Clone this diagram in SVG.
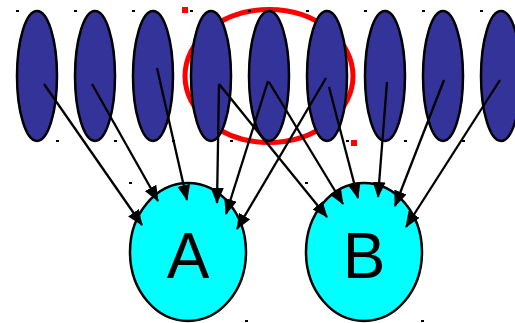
<svg xmlns="http://www.w3.org/2000/svg" width="515" height="323" viewBox="0 0 515 323">
  <style>
    .src { fill: #333399; stroke: #000; stroke-width: 2.5; }
    .dst { fill: #00ffff; stroke: #000; stroke-width: 2.5; }
    .lbl { font-family: "Liberation Sans", Arial, sans-serif; font-size: 64px; fill: #000; text-anchor: middle; }
    .edge { stroke: #000; stroke-width: 2.3; fill: none; marker-end: url(#arrow); }
    .handle { fill: #000; }
    .sel { fill: none; stroke: #ff0000; stroke-width: 5; }
    .selh { fill: #ff0000; }
  </style>
  <defs>
    <marker id="arrow" viewBox="0 0 16 13" refX="15" refY="6.5" markerWidth="16" markerHeight="13" markerUnits="userSpaceOnUse" orient="auto">
      <path d="M0,0 L16,6.5 L0,13 z" fill="#000"/>
    </marker>
  </defs>

  <!-- selection ring, drawn beneath the nodes -->
  <g id="selection">
    <ellipse class="sel" cx="269" cy="76" rx="84" ry="66.5"/>
    <rect class="selh" x="182" y="7" width="6" height="6"/>
    <rect class="selh" x="351" y="140" width="6" height="6"/>
  </g>

  <!-- source nodes -->
  <g id="s1"><ellipse class="src" cx="37" cy="76" rx="20" ry="65"/></g>
  <g id="s2"><ellipse class="src" cx="95" cy="76" rx="20" ry="65"/></g>
  <g id="s3"><ellipse class="src" cx="153" cy="76" rx="20" ry="65"/></g>
  <g id="s4"><ellipse class="src" cx="211" cy="76" rx="20" ry="65"/></g>
  <g id="s5"><ellipse class="src" cx="269" cy="76" rx="20" ry="65"/></g>
  <g id="s6"><ellipse class="src" cx="327" cy="76" rx="20" ry="65"/></g>
  <g id="s7"><ellipse class="src" cx="385" cy="76" rx="20" ry="65"/></g>
  <g id="s8"><ellipse class="src" cx="443" cy="76" rx="20" ry="65"/></g>
  <g id="s9"><ellipse class="src" cx="501" cy="76" rx="20" ry="65"/></g>

  <!-- corner handles -->
  <g id="handles">
    <rect class="handle" x="16" y="10" width="3" height="2"/>
    <rect class="handle" x="74" y="10" width="3" height="2"/>
    <rect class="handle" x="132" y="10" width="3" height="2"/>
    <rect class="handle" x="190" y="10" width="3" height="2"/>
    <rect class="handle" x="248" y="10" width="3" height="2"/>
    <rect class="handle" x="306" y="10" width="3" height="2"/>
    <rect class="handle" x="364" y="10" width="3" height="2"/>
    <rect class="handle" x="422" y="10" width="3" height="2"/>
    <rect class="handle" x="480" y="10" width="3" height="2"/>
    <rect class="handle" x="56" y="140" width="3" height="2"/>
    <rect class="handle" x="114" y="140" width="3" height="2"/>
    <rect class="handle" x="172" y="140" width="3" height="2"/>
    <rect class="handle" x="230" y="140" width="3" height="2"/>
    <rect class="handle" x="288" y="140" width="3" height="2"/>
    <rect class="handle" x="346" y="140" width="3" height="2"/>
    <rect class="handle" x="404" y="140" width="3" height="2"/>
    <rect class="handle" x="462" y="140" width="3" height="2"/>
    <rect class="handle" x="129" y="182" width="3" height="2"/>
    <rect class="handle" x="245" y="320" width="3" height="2"/>
    <rect class="handle" x="305" y="182" width="3" height="2"/>
    <rect class="handle" x="421" y="320" width="3" height="2"/>
  </g>

  <!-- target nodes -->
  <g id="A">
    <ellipse class="dst" cx="188" cy="252" rx="58" ry="69"/>
    <text class="lbl" x="188" y="278">A</text>
  </g>
  <g id="B">
    <ellipse class="dst" cx="364" cy="252" rx="58" ry="69"/>
    <text class="lbl" x="364" y="278">B</text>
  </g>

  <!-- connectors -->
  <g id="edges">
    <line class="edge" x1="44" y1="84" x2="142" y2="225"/>
    <line class="edge" x1="92" y1="84" x2="158" y2="201"/>
    <line class="edge" x1="157" y1="68" x2="187" y2="200"/>
    <line class="edge" x1="219" y1="84" x2="217" y2="203"/>
    <line class="edge" x1="268" y1="81" x2="226" y2="214"/>
    <line class="edge" x1="326" y1="78" x2="237" y2="229"/>
    <line class="edge" x1="219" y1="84" x2="327" y2="217"/>
    <line class="edge" x1="269" y1="82" x2="343" y2="204"/>
    <line class="edge" x1="329" y1="87" x2="358" y2="198"/>
    <line class="edge" x1="387" y1="82" x2="378" y2="197"/>
    <line class="edge" x1="444" y1="80" x2="395" y2="206"/>
    <line class="edge" x1="500" y1="80" x2="406" y2="227"/>
  </g>
</svg>
